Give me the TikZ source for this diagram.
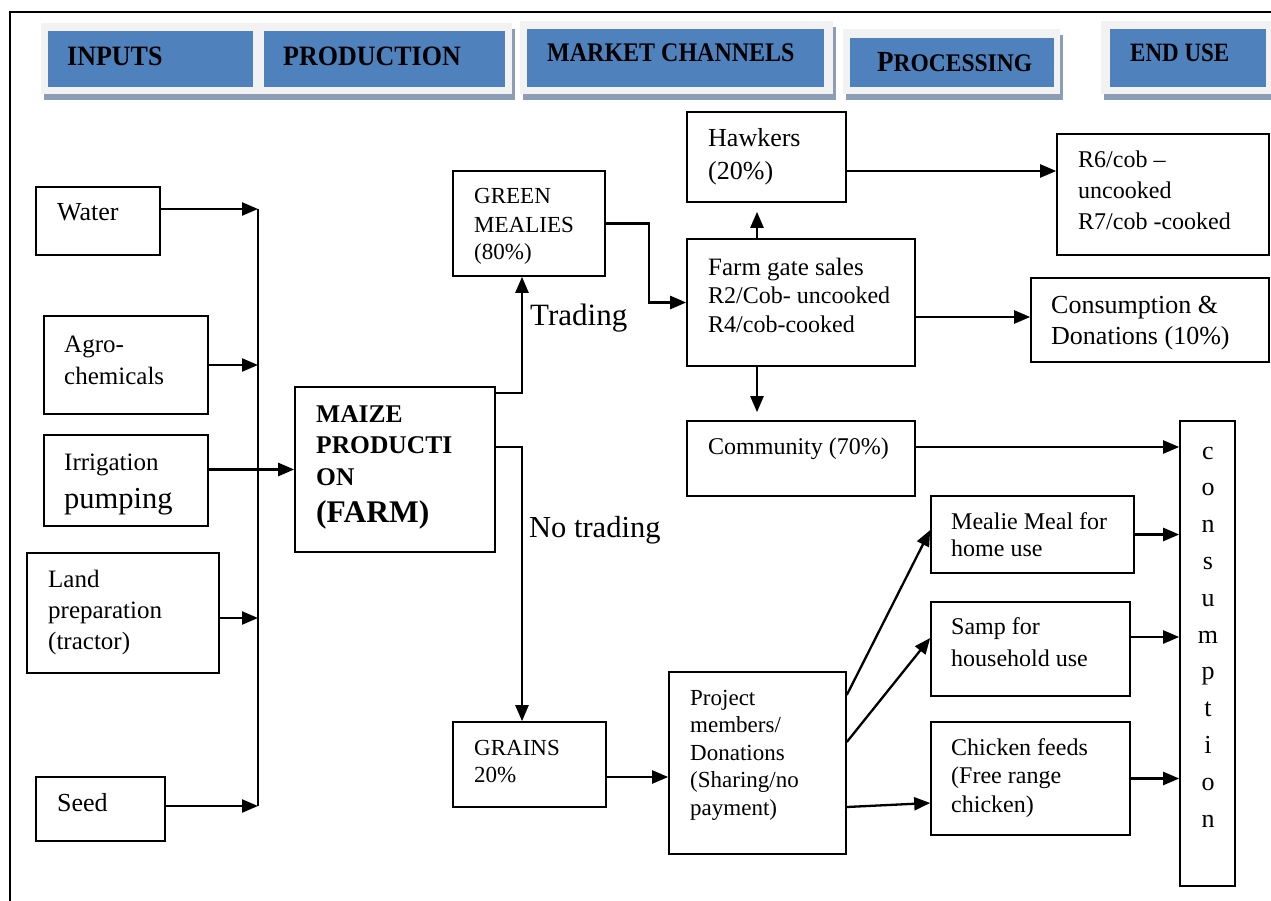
\documentclass[tikz,border=0pt]{standalone}
\usepackage{fontspec}
\setmainfont{Liberation Serif}
\usepackage{graphicx}
\usetikzlibrary{arrows.meta}

\definecolor{hdrblue}{HTML}{4F81BD}
\definecolor{hdrpad}{HTML}{F2F2F2}
\definecolor{hdrshade}{HTML}{8D9DB5}
\newcommand{\fsz}[2]{\fontsize{#1}{#2}\selectfont}
% box from its two corners: name, x1, y1, x2, y2
\newcommand{\cornerbox}[5]{%
  \node[box, minimum width={(#4-#2)*1pt}, minimum height={(#5-#3)*1pt}]
    (#1) at ({(#2+#4)/2},{(#3+#5)/2}) {};}
% header tab backing: outer x1, y1, x2, y2
\newcommand{\hdrshadow}[4]{\fill[hdrshade] (#1+3,#2+6) rectangle (#3+3,#4+6);}
\newcommand{\hdrpadding}[4]{\fill[hdrpad] (#1,#2) rectangle (#3,#4);}

\tikzset{
  box/.style={draw, line width=1.6pt, inner sep=0pt},
  % multi-line texts are placed by the baseline of their last line
  txt/.style={anchor=base west, align=left, inner sep=0pt},
  arr/.style={line width=2.3pt, -{Triangle[length=16pt,width=13pt]}},
  link/.style={line width=2.3pt},
  hdr/.style={fill=hdrblue, inner sep=0pt},
  hdrtxt/.style={anchor=base west, inner sep=0pt, font=\bfseries},
}

\begin{document}
\begin{tikzpicture}[x=1pt,y=-1pt]
\useasboundingbox (0,0) rectangle (1271,901);

% page frame
\draw[line width=2pt] (10,901) -- (10,12) -- (1271,12);

% ---- header tabs ----
\hdrshadow{41}{23}{258}{94}
\hdrshadow{257}{23}{512}{94}
\hdrshadow{520}{21}{833}{94}
\hdrshadow{843}{29}{1060}{94}
\hdrshadow{1101}{21}{1275}{94}
\hdrpadding{41}{23}{258}{94}
\hdrpadding{257}{23}{512}{94}
\hdrpadding{520}{21}{833}{94}
\hdrpadding{843}{29}{1060}{94}
\hdrpadding{1101}{21}{1275}{94}
\node[hdr, minimum width=205pt, minimum height=56pt] (hInputs) at (150.5,59) {};
\node[hdr, minimum width=241pt, minimum height=56pt] (hProd) at (384.5,59) {};
\node[hdr, minimum width=297pt, minimum height=58pt] (hMarket) at (675.5,58) {};
\node[hdr, minimum width=204pt, minimum height=49pt] (hProc) at (952,62.5) {};
\node[hdr, minimum width=156pt, minimum height=58pt] (hEnd) at (1188,58) {};
\node[hdrtxt] (tInputs) at (67,66) {\scalebox{1}[1.08]{\fsz{26}{30}INPUTS}};
\node[hdrtxt] (tProd) at (283,66) {\scalebox{1}[1.08]{\fsz{26}{30}PRODUCTION}};
\node[hdrtxt] (tMarket) at (547,62) {\scalebox{1}[1.12]{\fsz{24}{28}MARKET CHANNELS}};
\node[hdrtxt] (tProc) at (877,72) {\scalebox{1}[1.08]{\fsz{27}{30}P\fsz{23.5}{28}ROCESSING}};
\node[hdrtxt] (tEnd) at (1130,62) {\scalebox{1}[1.15]{\fsz{23}{28}END USE}};

% ---- boxes ----
\cornerbox{Water}{36}{187}{160}{255}
\cornerbox{Agro}{44}{316}{208}{414}
\cornerbox{Irr}{44}{435}{208}{526}
\cornerbox{Land}{27}{553}{219}{673}
\cornerbox{Seed}{36}{777}{165}{841}
\cornerbox{Maize}{295}{387}{495}{552}
\cornerbox{Green}{453}{171}{605}{276}
\cornerbox{Grains}{453}{722}{606}{807}
\cornerbox{Hawkers}{687}{112}{846}{202}
\cornerbox{Farm}{687}{239}{915}{366}
\cornerbox{Rsix}{1057}{134}{1269}{255}
\cornerbox{ConsDon}{1031}{278}{1269}{362}
\cornerbox{Community}{687}{421}{915}{496}
\cornerbox{Mealie}{931}{496}{1134}{573}
\cornerbox{Samp}{931}{602}{1130}{696}
\cornerbox{Chicken}{931}{722}{1130}{835}
\cornerbox{Project}{669}{672}{846}{854}
\cornerbox{Column}{1180}{421}{1235}{886}

% ---- box texts ----
\node[txt, font=\fsz{26}{31}] (tWater) at (57,221) {Water};
\node[txt, font=\fsz{25}{32}] (tAgro) at (64,384) {Agro-\\chemicals};
\node[txt, font=\fsz{25}{38}] (tIrr) at (64,508) {Irrigation\\{\fsz{30.5}{38}pumping}};
\node[txt, font=\fsz{25}{31}] (tLand) at (48,649) {Land\\preparation\\(tractor)};
\node[txt, font=\fsz{26}{31}] (tSeed) at (57,811) {Seed};
\node[txt, font=\bfseries\fsz{25.5}{31.5}] (tMaize) at (316,522)
  {MAIZE\\PRODUCTI\\ON\\[5.5pt]{\fsz{31.5}{36}(FARM)}};
\node[txt, font=\fsz{23}{28}] (tGreen) at (474,260) {GREEN\\MEALIES\\(80\%)};
\node[txt, font=\fsz{31}{36}] (tTrading) at (530,325) {Trading};
\node[txt, font=\fsz{30.5}{36}] (tNoTrading) at (529,537) {No trading};
\node[txt, font=\fsz{23}{27}] (tGrains) at (474,782) {GRAINS\\20\%};
\node[txt, font=\fsz{26}{33}] (tHawkers) at (708,180) {Hawkers\\(20\%)};
\node[txt, font=\fsz{24}{28.5}] (tFarm) at (708,332)
  {{\fsz{25}{28.5}Farm gate sales}\\R2/Cob- uncooked\\R4/cob-cooked};
\node[txt, font=\fsz{24}{31}] (tRsix) at (1078,230) {R6/cob –\\uncooked\\R7/cob -cooked};
\node[txt, font=\fsz{26}{31}] (tConsDon) at (1051,344) {Consumption \&\\Donations (10\%)};
\node[txt, font=\fsz{24}{29}] (tCommunity) at (708,454) {Community (70\%)};
\node[txt, font=\fsz{24}{27}] (tMealie) at (951,556) {Mealie Meal for\\home use};
\node[txt, font=\fsz{24}{32}] (tSamp) at (951,666) {Samp for\\household use};
\node[txt, font=\fsz{24}{28.5}] (tChicken) at (951,812) {Chicken feeds\\(Free range\\chicken)};
\node[txt, font=\fsz{23}{27.5}] (tProject) at (690,815)
  {Project\\members/\\Donations\\(Sharing/no\\payment)};
\node[anchor=base, align=center, inner sep=0pt, font=\fsz{26}{36.8}] (tColumn) at (1208,827)
  {c\\o\\n\\s\\u\\m\\p\\t\\i\\o\\n};

% ---- inputs feeding production ----
\coordinate (busTop) at (258,209);
\coordinate (busBot) at (258,806);
\coordinate (landIn) at (258,618);
\draw[link] (busTop) -- (busBot);
\draw[arr] (Water.east |- busTop) -- (busTop);
\draw[arr] (Agro.east) -- (Agro.east -| busTop);
\draw[arr] (Land.east |- landIn) -- (landIn);
\draw[arr] (Seed.east |- busBot) -- (busBot);
\draw[arr] (Irr.east |- Maize.west) -- (Maize.west);

% ---- production split ----
\coordinate (trade) at (522,393);
\coordinate (notrade) at (522,447);
\draw[arr] (Maize.east |- trade) -- (trade) -- (trade |- Green.south);
\draw[arr] (Maize.east |- notrade) -- (notrade) -- (notrade |- Grains.north);

% ---- market channels ----
\coordinate (gateX) at (757,0);
\coordinate (hawkY) at (0,171);
\coordinate (consY) at (0,317);
\coordinate (commY) at (0,447);
\coordinate (sampY) at (0,637);
\coordinate (grainY) at (0,777);
\draw[arr] (Green.east) -- ++(43,0) |- (Farm.west);
\draw[arr, shorten >=9pt] (Farm.north -| gateX) -- (Hawkers.south -| gateX);
\draw[arr, shorten >=8pt] (Farm.south -| gateX) -- (Community.north -| gateX);
\draw[arr] (Hawkers.east |- hawkY) -- (Rsix.west |- hawkY);
\draw[arr] (Farm.east |- consY) -- (ConsDon.west |- consY);
\draw[arr] (Community.east |- commY) -- (Column.west |- commY);
\draw[arr] (Grains.east |- grainY) -- (Project.west |- grainY);

% ---- processing and end use ----
\coordinate (pOutA) at (0,695);
\coordinate (pOutB) at (0,742);
\coordinate (pOutC) at (0,807);
\coordinate (mealIn) at (0,530);
\coordinate (sampIn) at (0,638);
\coordinate (chickIn) at (0,803);
\draw[arr] (Project.east |- pOutA) -- (Mealie.west |- mealIn);
\draw[arr] (Project.east |- pOutB) -- (Samp.west |- sampIn);
\draw[arr] (Project.east |- pOutC) -- (Chicken.west |- chickIn);
\draw[arr] (Mealie.east) -- (Mealie.east -| Column.west);
\draw[arr] (Samp.east |- sampY) -- (Column.west |- sampY);
\draw[arr] (Chicken.east) -- (Chicken.east -| Column.west);
\end{tikzpicture}
\end{document}
